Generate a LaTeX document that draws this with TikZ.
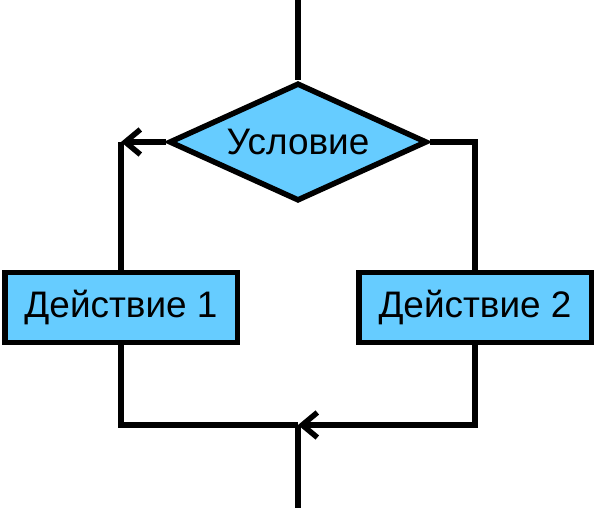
\documentclass[tikz,border=0pt]{standalone}
\usepackage{fontspec}
\setmainfont{Liberation Sans}
\usepackage{tikz}
\usetikzlibrary{shapes.geometric,arrows.meta,calc}

\definecolor{boxblue}{RGB}{102,204,255}

\begin{document}
\begin{tikzpicture}[
			line width = 0.11cm,
			every node/.style = {font=\fontsize{21}{25}\selectfont},
			cond/.style = {draw, fill=boxblue, shape=diamond, aspect=2.19,
				minimum width=5.16cm, minimum height=2.36cm, inner sep=0pt},
			act/.style = {draw, fill=boxblue, rectangle,
				minimum width=4.65cm, minimum height=1.4cm, inner sep=0pt},
			flow/.style = {-{Straight Barb[length=0.3cm,width=0.5cm]}},
			]

			\useasboundingbox (0,0) rectangle (11.92,-10.22);

			\node[cond] (usl) at (5.96,-2.84) {Условие};
			\node[act] (d1) at (2.42,-6.15) {Действие 1};
			\node[act] (d2) at (9.50,-6.15) {Действие 2};

			\coordinate (start) at (5.96,0);
			\coordinate (left) at (usl.west -| d1.north);
			\coordinate (right) at (usl.east -| d2.north);
			\coordinate (join) at (5.96,-8.5);
			\coordinate (end) at (5.96,-10.16);

			\draw (start) -- (usl.north);
			\draw[flow] (usl.west) -- (left);
			\draw (left) -- (d1.north);
			\draw (usl.east) -- (right) -- (d2.north);

			\draw (d1.south) |- (join);
			\draw[flow] (d2.south) |- (join);
			\draw (join) -- (end);

		\end{tikzpicture}
\end{document}
